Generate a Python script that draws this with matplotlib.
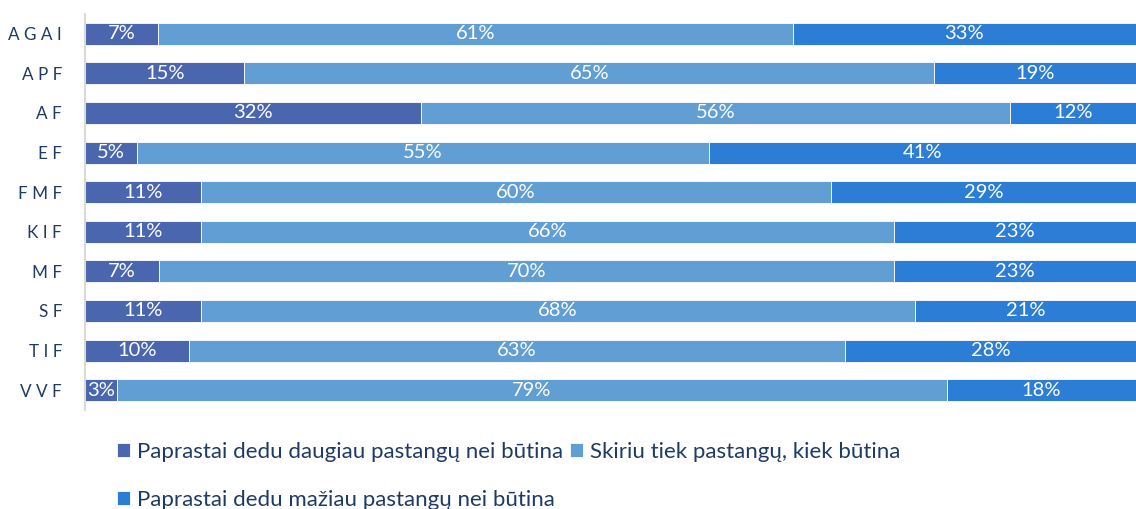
import matplotlib
matplotlib.use("Agg")
import matplotlib.pyplot as plt
import numpy as np

categories = ["AGAI", "APF", "AF", "EF", "FMF", "KIF", "MF", "SF", "TIF", "VVF"]
more_effort = [7, 15, 32, 5, 11, 11, 7, 11, 10, 3]
just_enough = [61, 65, 56, 55, 60, 66, 70, 68, 63, 79]
less_effort = [33, 19, 12, 41, 29, 23, 23, 21, 28, 18]
series_names = ["Paprastai dedu daugiau pastangų nei būtina",
                "Skiriu tiek pastangų, kiek būtina",
                "Paprastai dedu mažiau pastangų nei būtina"]
colors = ["#4A66AF", "#609ED3", "#2B7DD5"]
text_color = "#1F3B64"

plt.rcParams['font.family'] = ['Lato', 'DejaVu Sans']

fig = plt.figure(figsize=(11.36, 5.09), dpi=100)
ax = fig.add_axes([85/1136, 1 - 410/509, 1 - 85/1136, (410 - 14)/509])

data = np.array([more_effort, just_enough, less_effort], dtype=float)
totals = data.sum(axis=0)
norm = data / totals * 100
y = np.arange(len(categories))

left = np.zeros(len(categories))
handles = []
for i in range(3):
    bars = ax.barh(y, norm[i], left=left, height=0.56, color=colors[i],
                   edgecolor="white", linewidth=0.6, label=series_names[i])
    handles.append(bars)
    for j in range(len(categories)):
        ax.text(left[j] + norm[i][j] / 2, y[j], f"{int(data[i][j])}%",
                ha="center", va="center", color="white", fontsize=14.5)
    left += norm[i]

ax.set_xlim(0, 100)
ax.set_ylim(len(categories) - 0.5, -0.5)
ax.set_yticks(y)
ax.set_yticklabels([" ".join(c) for c in categories], color=text_color, fontsize=12.3)
ax.tick_params(axis="y", length=0, pad=16.5)
ax.set_xticks([])
for s in ["top", "right", "bottom"]:
    ax.spines[s].set_visible(False)
ax.spines["left"].set_color("#D9D9D9")
ax.spines["left"].set_linewidth(1.5)

leg = fig.legend([handles[0], handles[2], handles[1]],
                 [series_names[0], series_names[2], series_names[1]],
                 ncol=2, loc="upper left", bbox_to_anchor=(97/1136, 1 - 422/509),
                 frameon=False, fontsize=16, handlelength=0.6, handleheight=0.6,
                 handletextpad=0.3, columnspacing=0.3, labelspacing=1.25,
                 labelcolor=text_color)

fig.savefig("out.png", dpi=100)
